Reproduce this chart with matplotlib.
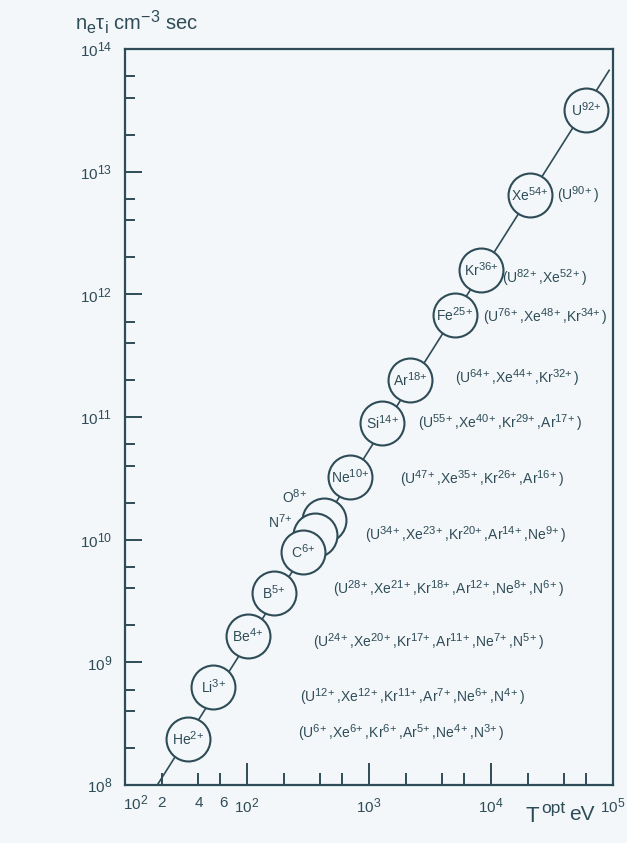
import matplotlib
matplotlib.use('Agg')
import matplotlib.pyplot as plt
import matplotlib._mathtext as mathtext_core
from matplotlib.ticker import FixedLocator, NullFormatter

# ions on the optimum curve (low T -> high T)
ions = ['He', 'Li', 'Be', 'B', 'C', 'N', 'O', 'Ne', 'Si', 'Ar', 'Fe', 'Kr', 'Xe', 'U']
charges = [2, 3, 4, 5, 6, 7, 8, 10, 14, 18, 25, 36, 54, 92]
t_opt = [33, 53, 102, 167, 290, 358, 425, 697, 1280, 2180, 5040, 8260, 2.1e4, 6.0e4]
ne_tau = [2.37e8, 6.3e8, 1.64e9, 3.67e9, 7.9e9, 1.09e10, 1.44e10, 3.24e10,
          8.9e10, 2.0e11, 6.77e11, 1.57e12, 6.43e12, 3.17e13]

# straight line through the circles (end points)
line_t = [18.4, 9.3e4]
line_nt = [1e8, 6.7e13]

# equivalent ionisation stages written to the right of the line
equiv = [
    [('U', 6), ('Xe', 6), ('Kr', 6), ('Ar', 5), ('Ne', 4), ('N', 3)],
    [('U', 12), ('Xe', 12), ('Kr', 11), ('Ar', 7), ('Ne', 6), ('N', 4)],
    [('U', 24), ('Xe', 20), ('Kr', 17), ('Ar', 11), ('Ne', 7), ('N', 5)],
    [('U', 28), ('Xe', 21), ('Kr', 18), ('Ar', 12), ('Ne', 8), ('N', 6)],
    [('U', 34), ('Xe', 23), ('Kr', 20), ('Ar', 14), ('Ne', 9)],
    [('U', 47), ('Xe', 35), ('Kr', 26), ('Ar', 16)],
    [('U', 55), ('Xe', 40), ('Kr', 29), ('Ar', 17)],
    [('U', 64), ('Xe', 44), ('Kr', 32)],
    [('U', 76), ('Xe', 48), ('Kr', 34)],
    [('U', 82), ('Xe', 52)],
    [('U', 90)],
]
# pixel anchors (left edge, centre) of those texts
equiv_px = [(298, 733), (300, 697), (313, 642), (333, 589), (365, 535),
            (400, 479), (418, 423), (455, 378), (483, 317), (502, 278), (557, 195)]

ink = '#2e4c57'
paper = '#f3f7f9'

# the scanned figure uses large superscripts
mathtext_core.SHRINK_FACTOR = 0.8
plt.rcParams['font.family'] = ['Liberation Sans', 'DejaVu Sans']
plt.rcParams['mathtext.default'] = 'regular'


def ion_label(el, q):
    return el + r'$^{%d\!+}$' % q


W, H = 627, 843
fig = plt.figure(figsize=(W / 100, H / 100), dpi=100, facecolor=paper)
x0, x1, y0, y1 = 125, 613, 49, 785
ax = fig.add_axes([x0 / W, 1 - y1 / H, (x1 - x0) / W, (y1 - y0) / H])
ax.set_facecolor(paper)
ax.set_xscale('log')
ax.set_yscale('log')
ax.set_xlim(10, 1e5)
ax.set_ylim(1e8, 1e14)

for s in ax.spines.values():
    s.set_color(ink)
    s.set_linewidth(1.6)

ax.plot(line_t, line_nt, color=ink, lw=1.2, zorder=2)
ax.scatter(t_opt[::-1], ne_tau[::-1], s=1000, facecolor=paper, edgecolor=ink,
           linewidth=1.5, zorder=3)

for ion, q, t, n in zip(ions, charges, t_opt, ne_tau):
    off = (0, 0)
    if ion == 'N':
        off = (-25, 9)
    elif ion == 'O':
        off = (-21, 16.5)
    ax.annotate(ion_label(ion, q), (t, n), xytext=off, textcoords='offset points',
                fontsize=10, color=ink, ha='center', va='center', zorder=5)

for grp, (px, py) in zip(equiv, equiv_px):
    txt = '(' + ','.join(ion_label(el, q) for el, q in grp) + ')'
    fig.text(px / W, 1 - py / H, txt, fontsize=10, color=ink,
             ha='left', va='center')

# ticks
def dec_ticks(lo, hi):
    out = []
    for e in range(lo, hi):
        out += [2 * 10 ** e, 4 * 10 ** e, 6 * 10 ** e]
    return out

ax.xaxis.set_major_locator(FixedLocator([10, 100, 1e3, 1e4, 1e5]))
ax.xaxis.set_minor_locator(FixedLocator(dec_ticks(1, 5)))
ax.xaxis.set_minor_formatter(NullFormatter())
ax.set_xticklabels(['', '$10^2$', '$10^3$', '$10^4$', '$10^5$'])
ax.yaxis.set_major_locator(FixedLocator([10.0 ** e for e in range(8, 15)]))
ax.yaxis.set_minor_locator(FixedLocator(dec_ticks(8, 14)))
ax.yaxis.set_minor_formatter(NullFormatter())
ax.set_yticklabels(['$10^{%d}$' % e for e in range(8, 15)])

ax.tick_params(axis='both', which='both', direction='in', color=ink,
               labelcolor=ink, labelsize=11, width=1.4, top=False, right=False)
ax.tick_params(axis='x', which='major', length=16, pad=8)
ax.tick_params(axis='x', which='minor', length=9)
ax.tick_params(axis='y', which='major', length=12, pad=9)
ax.tick_params(axis='y', which='minor', length=7)

# extra labels on the first decade of the x axis
fig.text(136 / W, 1 - 803 / H, '$10^2$', fontsize=11, color=ink, ha='center', va='center')
for lab, px in [('2', 162), ('4', 199), ('6', 224)]:
    fig.text(px / W, 1 - 803 / H, lab, fontsize=11, color=ink, ha='center', va='center')

# axis titles
fig.text(75 / W, 1 - 30 / H, r'n$_e\tau_i$ cm$^{-3}$ sec', fontsize=14.5, color=ink,
         ha='left', va='baseline')
fig.text(525 / W, 1 - 822 / H, 'T', fontsize=16, color=ink, ha='left', va='baseline')
fig.text(541 / W, 1 - 813 / H, 'opt', fontsize=12.5, color=ink, ha='left', va='baseline')
fig.text(569 / W, 1 - 820 / H, 'eV', fontsize=15, color=ink, ha='left', va='baseline')

fig.savefig('out.png', dpi=100, facecolor=paper)
